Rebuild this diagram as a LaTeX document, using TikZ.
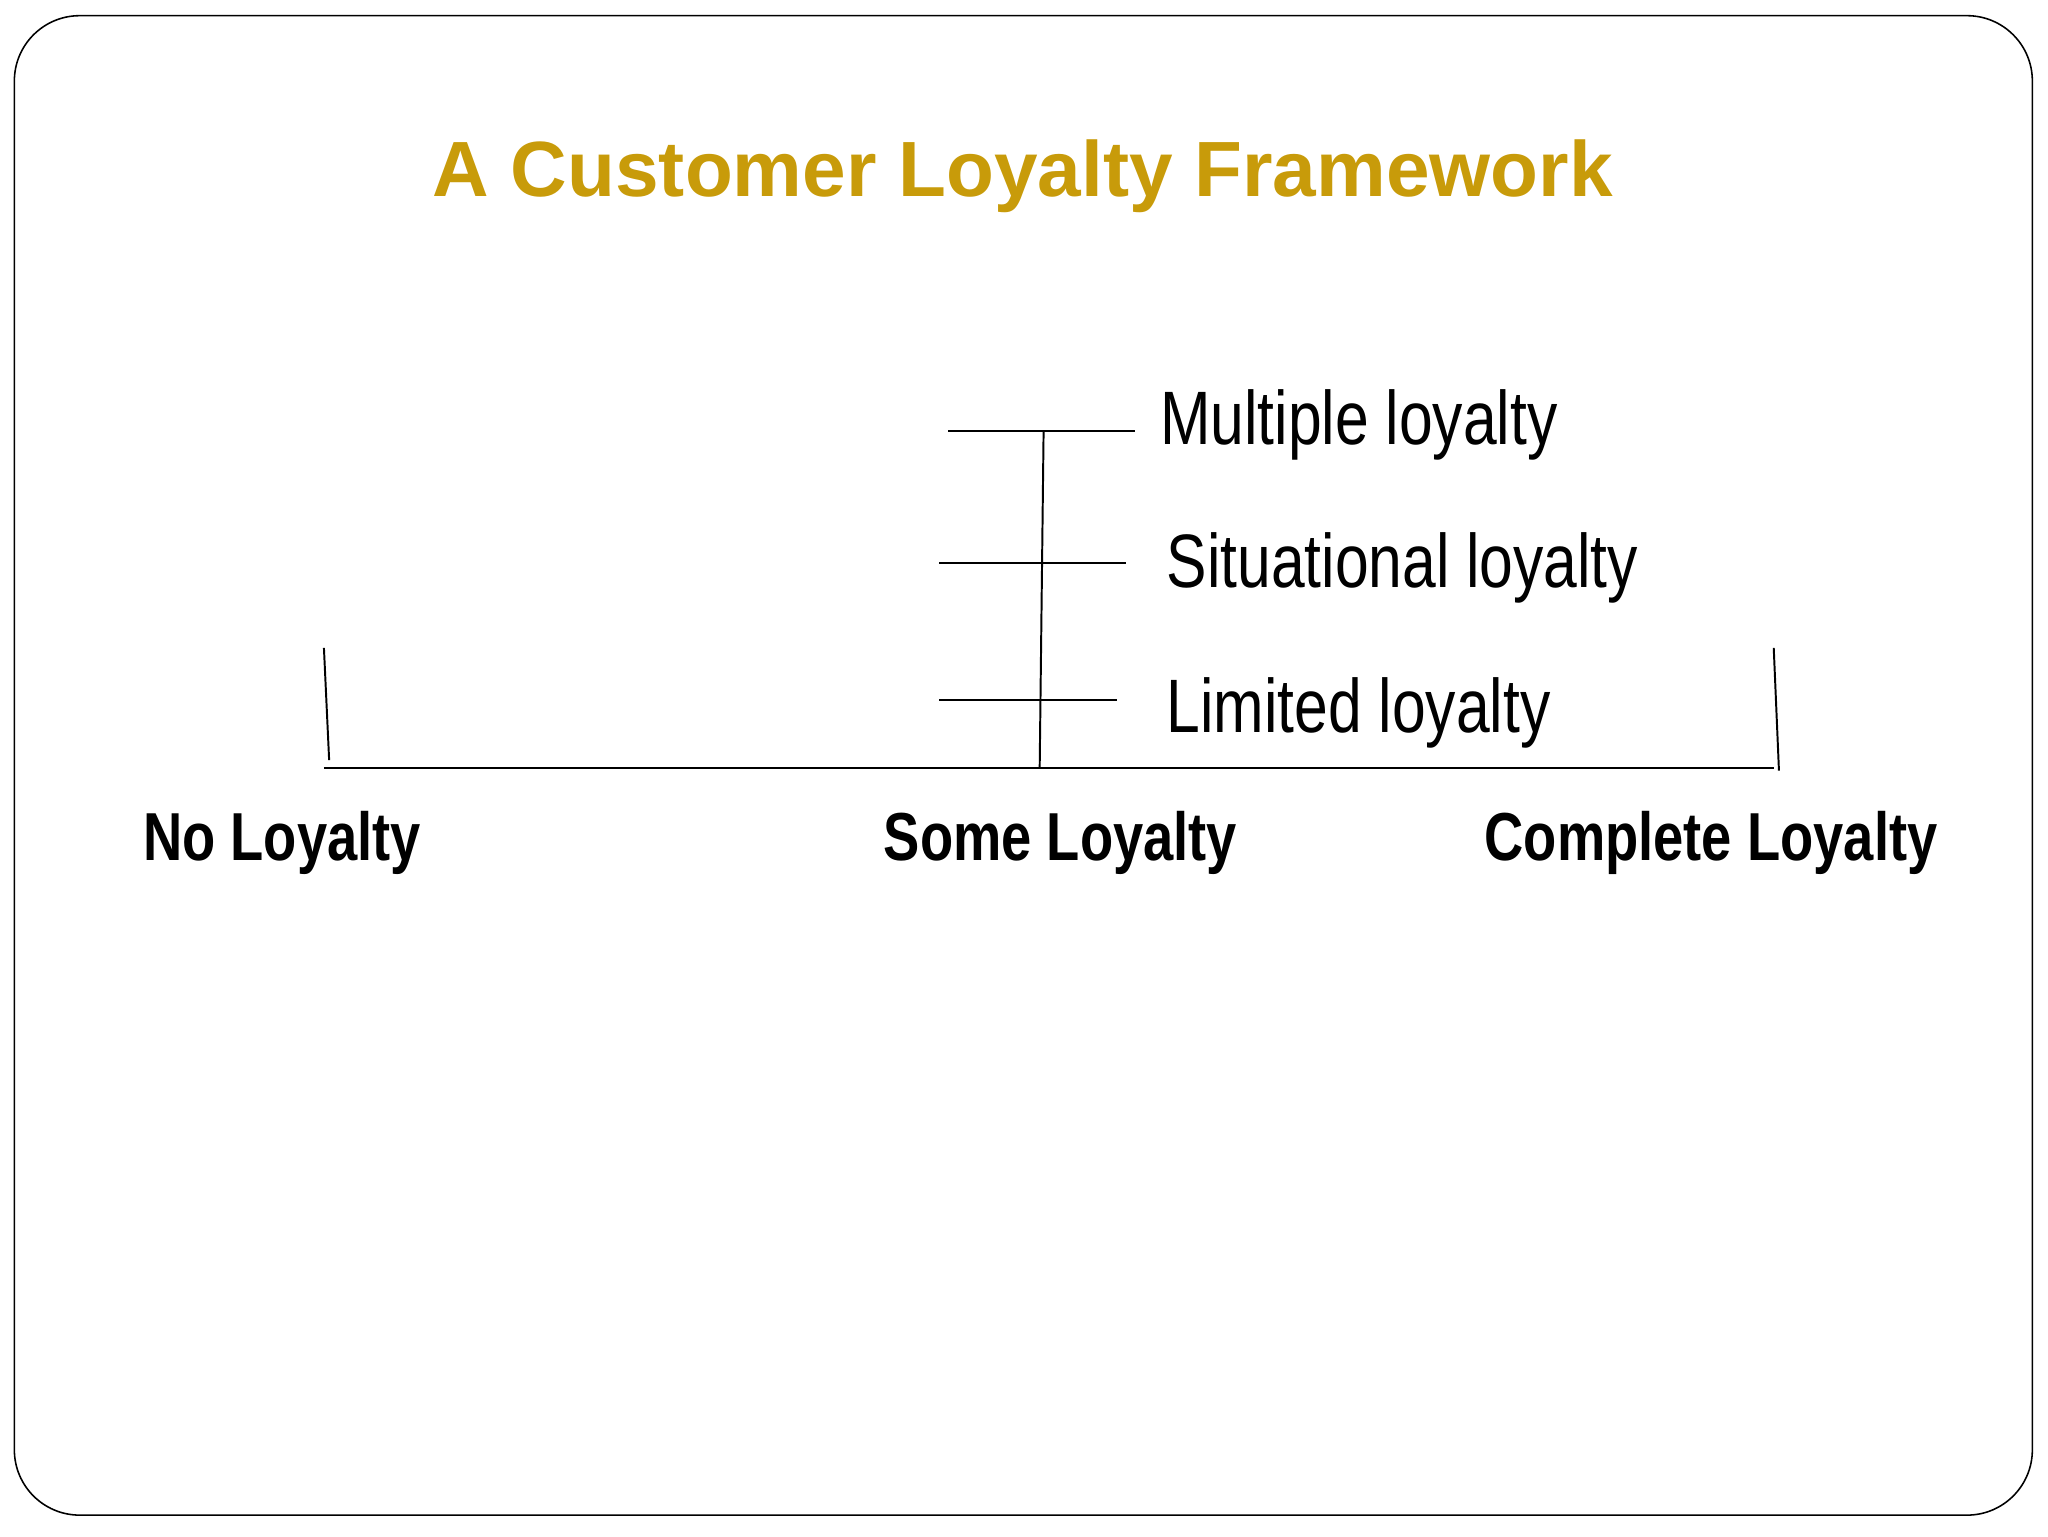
\documentclass[tikz,border=0pt]{standalone}
\usepackage{fontspec}
\setmainfont{Liberation Sans}
\newfontfamily\narrowf[FakeStretch=0.8]{Liberation Sans}
\definecolor{titlegold}{RGB}{200,155,10}
\begin{document}
\begin{tikzpicture}[x=1pt,y=-1pt,
  ln/.style={line width=1.5pt,black},
  lbl/.style={font=\narrowf\fontsize{58}{60}\selectfont,anchor=west,inner sep=0pt},
  axl/.style={font=\narrowf\bfseries\fontsize{52}{54}\selectfont,inner sep=0pt}]
\useasboundingbox (0,0) rectangle (1568,1176);
\draw[line width=1.2pt,rounded corners=50pt] (11,12) rectangle (1556,1160);
\node[font=\bfseries\fontsize{60}{62}\selectfont,text=titlegold] (title) at (783,135) {A Customer Loyalty Framework};
\coordinate (bl) at (248,588); \coordinate (br) at (1358,588);
\coordinate (lt) at (248,496); \coordinate (lb) at (252,582);
\coordinate (rt) at (1358,496); \coordinate (rb) at (1362,590);
\coordinate (vt) at (799,330); \coordinate (vb) at (796,588);
\coordinate (h1a) at (726,330); \coordinate (h1b) at (869,330);
\coordinate (h2a) at (719,431); \coordinate (h2b) at (862,431);
\coordinate (h3a) at (719,536); \coordinate (h3b) at (855,536);
\draw[ln] (bl) -- (br);
\draw[ln] (lt) -- (lb);
\draw[ln] (rt) -- (rb);
\draw[ln] (vt) -- (vb);
\draw[ln] (h1a) -- (h1b);
\draw[ln] (h2a) -- (h2b);
\draw[ln] (h3a) -- (h3b);
\node[lbl] (m) at (888,325) {Multiple loyalty};
\node[lbl] (s) at (893,435) {Situational loyalty};
\node[lbl] (l) at (893,546) {Limited loyalty};
\node[axl] (no) at (216,645) {No Loyalty};
\node[axl] (some) at (812,645) {Some Loyalty};
\node[axl] (comp) at (1310,645) {Complete Loyalty};
\end{tikzpicture}
\end{document}
